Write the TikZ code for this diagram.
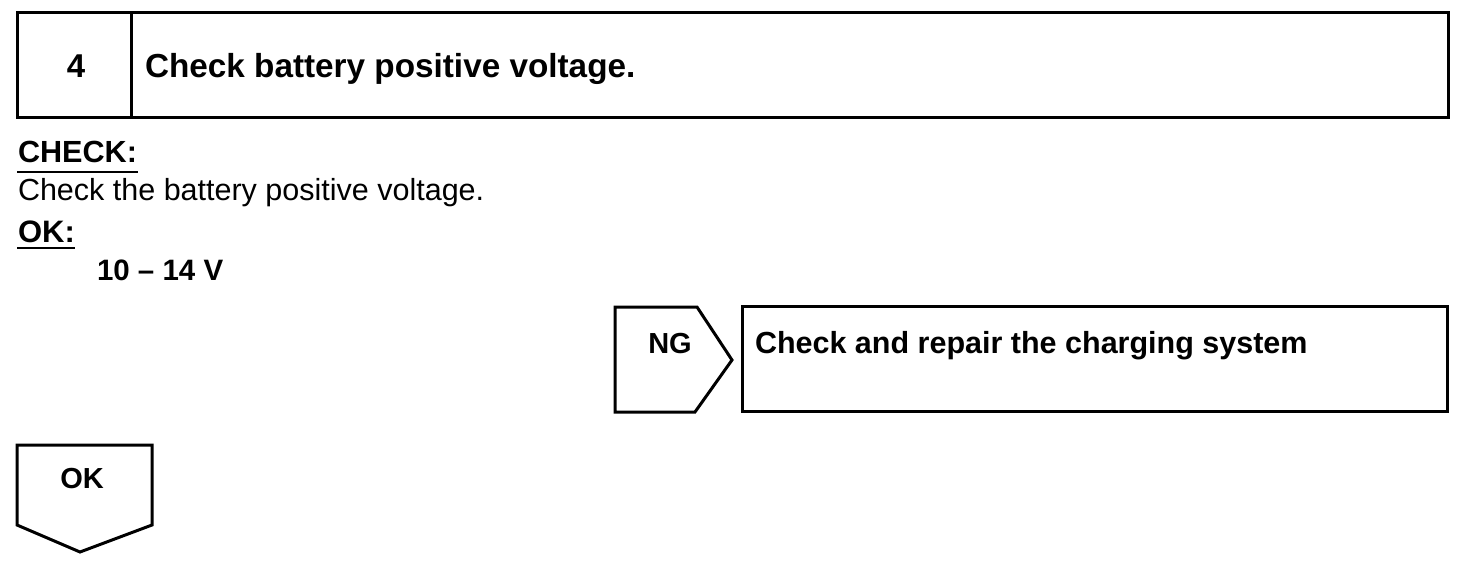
\documentclass[tikz,border=0pt]{standalone}
\usepackage{fontspec}
\setmainfont{Liberation Sans}
\begin{document}
\begin{tikzpicture}[x=1pt,y=-1pt,
  frame/.style={draw=black,line width=3pt,line join=miter},
  uline/.style={draw=black,line width=2pt},
  txt/.style={inner sep=0pt,outer sep=0pt,text=black},
  bsize/.style={font=\fontsize{#1}{#1}\selectfont\bfseries},
  rsize/.style={font=\fontsize{#1}{#1}\selectfont}]
\useasboundingbox[fill=white] (0,0) rectangle (1472,560);
% header box
\draw[frame] (17,12) rectangle (1448,117);
\draw[frame] (131,12) -- (131,117);
\node[txt,bsize=33,anchor=base] (num) at (76,77) {4};
\node[txt,bsize=33.3,anchor=base west] (title) at (145,77) {Check battery positive voltage.};
% check text
\node[txt,bsize=30.6,anchor=base west] (chk) at (18,162) {CHECK:};
\coordinate (chkA) at (17,172);
\coordinate (chkB) at (138,172);
\draw[uline] (chkA) -- (chkB);
\node[txt,rsize=30.5,anchor=base west] (body) at (18,200) {Check the battery positive voltage.};
\node[txt,bsize=31,anchor=base west] (ok) at (18,242) {OK:};
\coordinate (okA) at (17,248);
\coordinate (okB) at (75,248);
\draw[uline] (okA) -- (okB);
\node[txt,bsize=29.5,anchor=base west] (val) at (97,280) {10 -- 14 V};
% NG branch
\draw[frame] (615,307) -- (697,307) -- (732,360) -- (695,412) -- (615,412) -- cycle;
\node[txt,bsize=29,anchor=base] (ng) at (670,353) {NG};
\draw[frame] (742,306) rectangle (1447,411);
\node[txt,bsize=30.5,anchor=base west] (repair) at (755,353) {Check and repair the charging system};
% OK branch
\draw[frame] (17,445) -- (152,445) -- (152,525) -- (80,552) -- (17,525) -- cycle;
\node[txt,bsize=29,anchor=base] (okbox) at (82,488) {OK};
\end{tikzpicture}
\end{document}
